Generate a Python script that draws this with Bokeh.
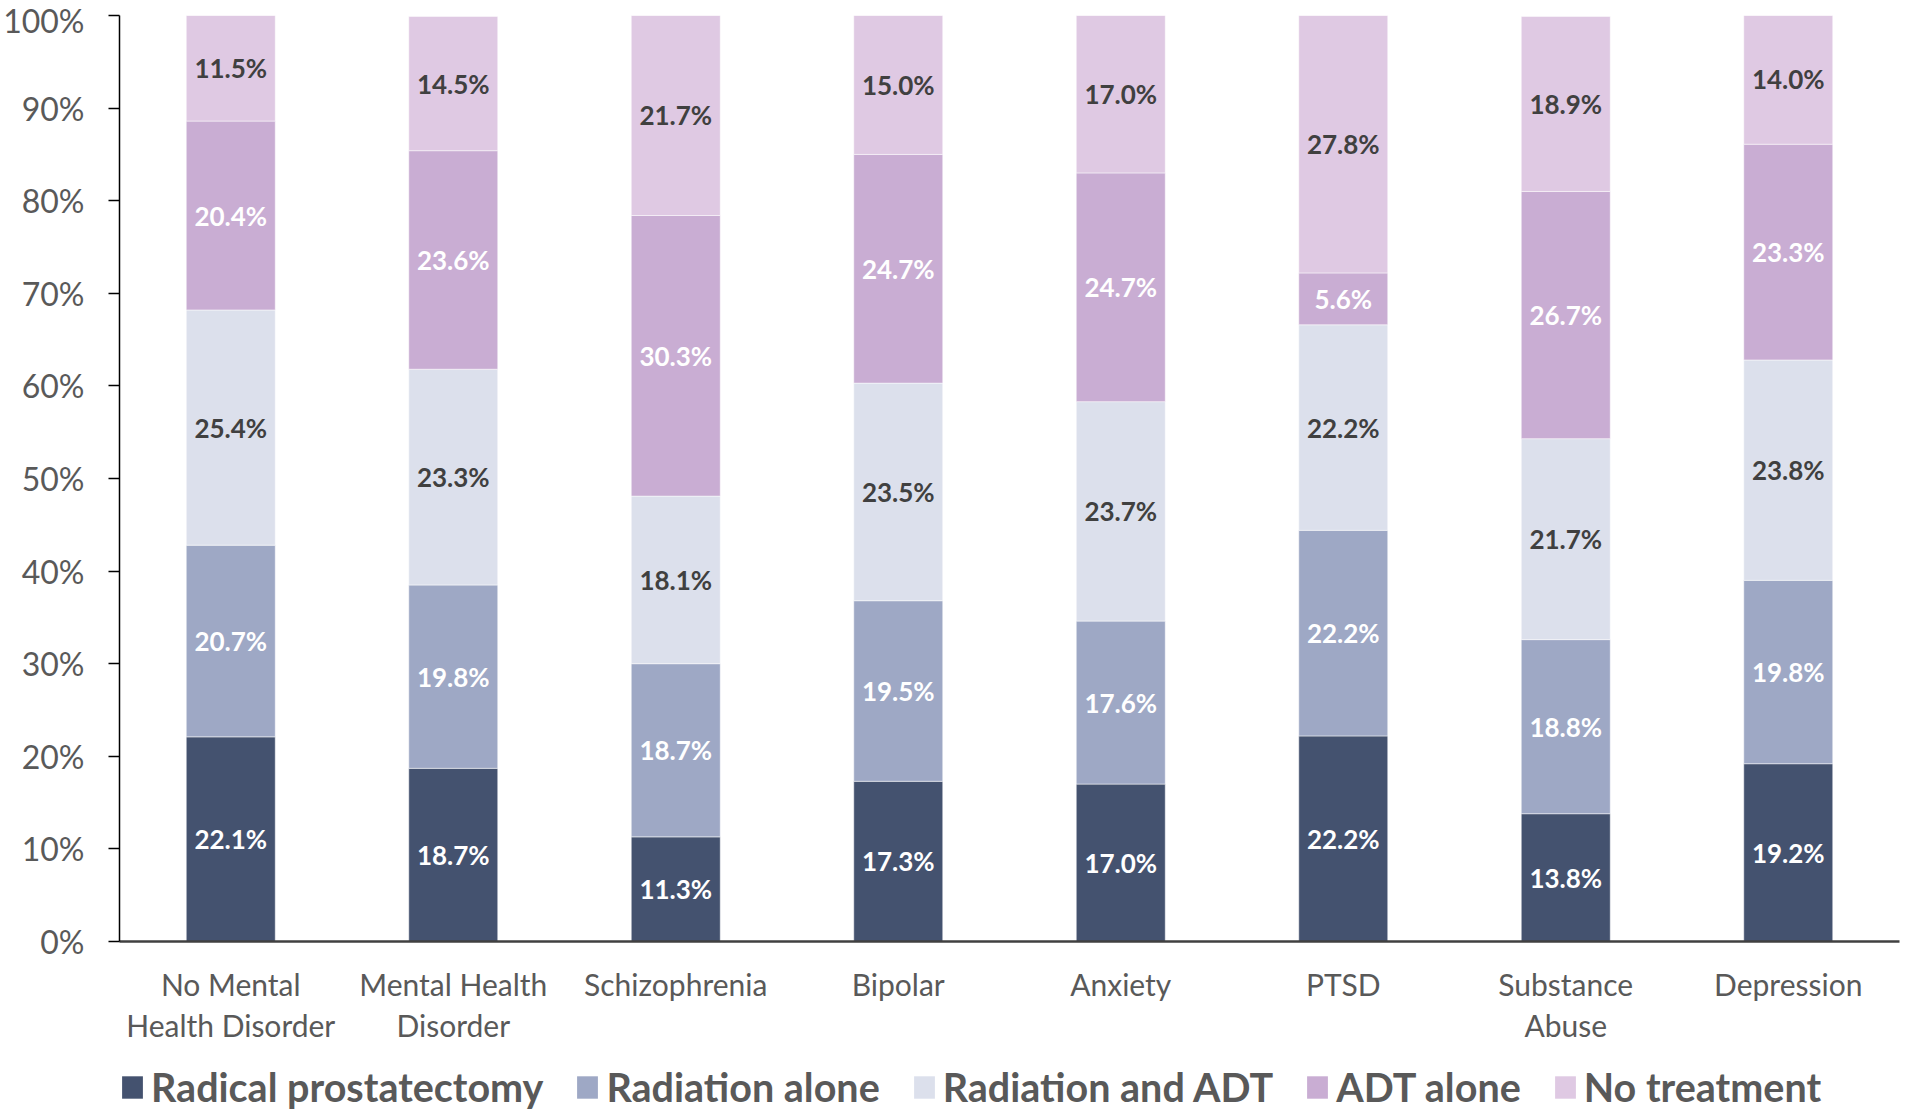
from bokeh.plotting import figure
from bokeh.models import (ColumnDataSource, Legend, LegendItem, Range1d, FactorRange,
                          FixedTicker, CustomJSTickFormatter)
from bokeh.layouts import column
from bokeh.core.properties import value
from bokeh.embed import file_html
from bokeh.resources import INLINE

categories = ["No Mental\nHealth Disorder", "Mental Health\nDisorder", "Schizophrenia",
              "Bipolar", "Anxiety", "PTSD", "Substance\nAbuse", "Depression"]
series = ["Radical prostatectomy", "Radiation alone", "Radiation and ADT", "ADT alone", "No treatment"]
radical = [22.1, 18.7, 11.3, 17.3, 17.0, 22.2, 13.8, 19.2]
radiation = [20.7, 19.8, 18.7, 19.5, 17.6, 22.2, 18.8, 19.8]
radiation_adt = [25.4, 23.3, 18.1, 23.5, 23.7, 22.2, 21.7, 23.8]
adt = [20.4, 23.6, 30.3, 24.7, 24.7, 5.6, 26.7, 23.3]
none_tx = [11.5, 14.5, 21.7, 15.0, 17.0, 27.8, 18.9, 14.0]
y_ticks = [0, 10, 20, 30, 40, 50, 60, 70, 80, 90, 100]

colors = ["#44526F", "#9EA8C5", "#DCE0EC", "#C9ADD3", "#DFC9E3"]
label_colors = ["white", "white", "#404040", "white", "#404040"]
FONT = "Lato"

keys = ["s0", "s1", "s2", "s3", "s4"]
all_series = [radical, radiation, radiation_adt, adt, none_tx]
data = {"cat": categories}
for k, vals in zip(keys, all_series):
    data[k] = vals
src = ColumnDataSource(data)

W = 1900
CHART_H = 1046
LEG_H = 64
LEFT = 118

p = figure(x_range=FactorRange(*categories, range_padding=0), y_range=Range1d(0, 100),
           width=W, height=CHART_H, output_backend="svg", toolbar_location=None,
           min_border_left=LEFT, min_border_right=1, min_border_top=15,
           min_border_bottom=CHART_H - 941)
p.outline_line_color = None
p.grid.grid_line_color = None

rs = p.vbar_stack(keys, x="cat", width=0.4, source=src, color=colors,
                  line_color="white", line_width=0.5)

# segment labels
lx, ly, lt, lc = [], [], [], []
for i, c in enumerate(categories):
    base = 0.0
    for j, vals in enumerate(all_series):
        v = vals[i]
        lx.append(c)
        ly.append(base + v / 2)
        lt.append(f"{v:.1f}%")
        lc.append(label_colors[j])
        base += v
lsrc = ColumnDataSource(dict(x=lx, y=ly, t=lt, c=lc))
p.text(x="x", y="y", text="t", text_color="c", source=lsrc, text_align="center",
       text_baseline="middle", text_font=value(FONT), text_font_style="bold",
       text_font_size="26px")

# y axis
p.yaxis.ticker = FixedTicker(ticks=y_ticks)
p.yaxis.formatter = CustomJSTickFormatter(code="return tick + '%';")
p.yaxis.major_label_text_font = FONT
p.yaxis.major_label_text_font_size = "32px"
p.yaxis.major_label_text_color = "#595959"
p.yaxis.axis_line_color = "black"
p.yaxis.axis_line_width = 1.5
p.yaxis.major_tick_line_color = "black"
p.yaxis.major_tick_line_width = 1.5
p.yaxis.major_tick_out = 11
p.yaxis.major_tick_in = 0
p.yaxis.minor_tick_line_color = None
p.yaxis.major_label_standoff = 24

# x axis
p.xaxis.axis_line_color = "#404040"
p.xaxis.axis_line_width = 2.5
p.xaxis.major_tick_line_color = None
p.xaxis.minor_tick_line_color = None
p.xaxis.major_label_text_font = FONT
p.xaxis.major_label_text_font_size = "30px"
p.xaxis.major_label_text_color = "#595959"
p.xaxis.major_label_standoff = 18
p.xaxis.major_label_text_line_height = 1.15

# legend strip below the chart (its frame is aligned with the chart frame)
lf = figure(width=W, height=LEG_H, x_range=Range1d(0, 1), y_range=Range1d(0, 1),
            output_backend="svg", toolbar_location=None,
            x_axis_location=None, y_axis_location=None,
            min_border_left=LEFT, min_border_right=1, min_border_top=0, min_border_bottom=0)
lf.grid.grid_line_color = None
lf.outline_line_color = None
# zero-size proxy bars used only to give the legend its colour swatches
dummies = [lf.vbar(x=[0], top=[0], bottom=[0], width=0, fill_color=c, line_color=None)
           for c in colors]

items = [LegendItem(label=s, renderers=[r]) for s, r in zip(series, dummies)]
legend = Legend(items=items, orientation="horizontal", location=(0, 0),
                glyph_width=26, glyph_height=28, label_text_font=FONT,
                label_text_font_style="bold", label_text_font_size="39.5px",
                label_text_color="#595959", border_line_color=None,
                background_fill_alpha=0, padding=0, margin=0, spacing=31,
                label_standoff=6)
lf.add_layout(legend, "center")

layout = column(p, lf, spacing=0)
open("out.html", "w").write(file_html(layout, INLINE))
